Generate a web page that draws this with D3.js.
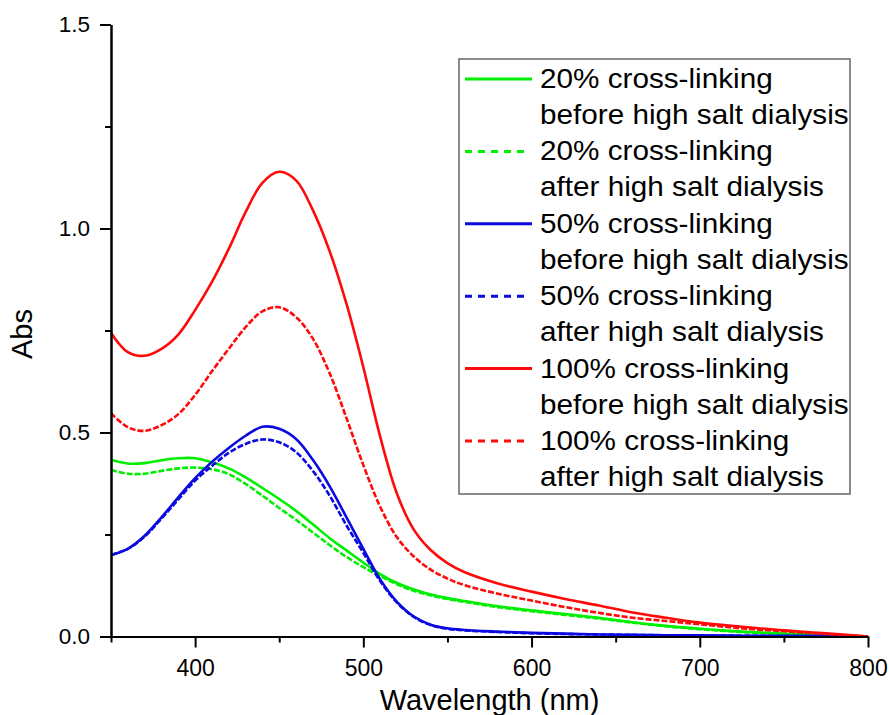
<!DOCTYPE html>
<html>
<head>
<meta charset="utf-8">
<script src="https://cdn.jsdelivr.net/npm/d3@7"></script>
<style>
  body { margin: 0; background: #fff; }
  svg { font-family: "Liberation Sans", Arial, sans-serif; }
</style>
</head>
<body>
<svg id="chart" width="889" height="715"></svg>
<script>
// wavelengths (nm) shared by every series
const wavelengths = [350, 360, 370, 380, 390, 400, 410, 420, 430, 440, 450, 460, 470, 480, 490, 500,
  510, 520, 530, 540, 550, 560, 580, 600, 620, 640, 660, 680, 700, 725, 750, 775, 800];

const green20Before = [0.433, 0.424, 0.425, 0.432, 0.437, 0.437, 0.427, 0.412, 0.390, 0.364, 0.337, 0.308, 0.275, 0.241, 0.211, 0.181,
  0.153, 0.131, 0.115, 0.103, 0.094, 0.087, 0.074, 0.064, 0.055, 0.046, 0.035, 0.026, 0.019, 0.012, 0.007, 0.003, 0.000];
const green20After = [0.408, 0.399, 0.399, 0.406, 0.412, 0.414, 0.410, 0.398, 0.374, 0.345, 0.315, 0.286, 0.255, 0.224, 0.195, 0.170,
  0.148, 0.128, 0.112, 0.101, 0.092, 0.085, 0.072, 0.062, 0.053, 0.044, 0.034, 0.025, 0.018, 0.011, 0.006, 0.002, 0.000];
const blue50Before = [0.200, 0.215, 0.247, 0.292, 0.341, 0.388, 0.428, 0.462, 0.492, 0.514, 0.509, 0.484, 0.433, 0.368, 0.292, 0.215,
  0.140, 0.085, 0.049, 0.029, 0.020, 0.016, 0.012, 0.009, 0.007, 0.005, 0.004, 0.003, 0.003, 0.002, 0.002, 0.001, 0.000];
const blue50After = [0.200, 0.215, 0.245, 0.289, 0.336, 0.382, 0.418, 0.450, 0.472, 0.483, 0.476, 0.452, 0.406, 0.345, 0.272, 0.205,
  0.136, 0.083, 0.048, 0.028, 0.019, 0.015, 0.011, 0.008, 0.006, 0.005, 0.004, 0.003, 0.002, 0.002, 0.001, 0.001, 0.000];
const red100Before = [0.744, 0.697, 0.688, 0.705, 0.740, 0.800, 0.869, 0.950, 1.040, 1.112, 1.139, 1.118, 1.045, 0.944, 0.815, 0.660,
  0.490, 0.350, 0.262, 0.212, 0.180, 0.158, 0.130, 0.110, 0.092, 0.076, 0.059, 0.046, 0.034, 0.024, 0.015, 0.008, 0.000];
const red100After = [0.547, 0.513, 0.504, 0.518, 0.545, 0.592, 0.650, 0.705, 0.758, 0.797, 0.807, 0.783, 0.730, 0.645, 0.535, 0.420,
  0.318, 0.243, 0.196, 0.164, 0.142, 0.126, 0.105, 0.088, 0.072, 0.058, 0.046, 0.038, 0.030, 0.020, 0.013, 0.006, 0.000];

const xMajorTicks = [400, 500, 600, 700, 800];
const xMinorTicks = [350, 450, 550, 650, 750];
const yMajorTicks = [0, 0.5, 1.0, 1.5];
const yMinorTicks = [0.25, 0.75, 1.25];

const series = [
  { label: ['20% cross-linking', 'before high salt dialysis'], values: green20Before, color: '#00ee00', dashed: false },
  { label: ['20% cross-linking', 'after high salt dialysis'], values: green20After, color: '#00ee00', dashed: true },
  { label: ['50% cross-linking', 'before high salt dialysis'], values: blue50Before, color: '#0a0ae0', dashed: false },
  { label: ['50% cross-linking', 'after high salt dialysis'], values: blue50After, color: '#0a0ae0', dashed: true },
  { label: ['100% cross-linking', 'before high salt dialysis'], values: red100Before, color: '#ff0a0a', dashed: false },
  { label: ['100% cross-linking', 'after high salt dialysis'], values: red100After, color: '#ff0a0a', dashed: true },
];

const margin = { top: 24.5, right: 21, bottom: 78.5, left: 111 };
const svg = d3.select('#chart');
const width = +svg.attr('width') - margin.left - margin.right;
const height = +svg.attr('height') - margin.top - margin.bottom;

const x = d3.scaleLinear().domain([350, 800]).range([0, width]);
const y = d3.scaleLinear().domain([0, 1.5]).range([height, 0]);

const g = svg.append('g')
  .attr('transform', 'translate(' + margin.left + ',' + margin.top + ')');

// lines, drawn first so the axes sit on top
const line = d3.line()
  .x((d, i) => x(wavelengths[i]))
  .y(d => y(d))
  .curve(d3.curveCatmullRom.alpha(0.5));

g.append('g')
  .attr('class', 'lines')
  .selectAll('path')
  .data(series)
  .enter()
  .append('path')
  .attr('d', d => line(d.values))
  .attr('fill', 'none')
  .attr('stroke', d => d.color)
  .attr('stroke-width', 2.6)
  .attr('stroke-dasharray', d => d.dashed ? '6,2' : null);

// axes
function styleAxis(sel) {
  sel.select('.domain').attr('stroke', '#000').attr('stroke-width', 2);
  sel.selectAll('.tick line').attr('stroke', '#000').attr('stroke-width', 2);
  sel.selectAll('.tick text').attr('fill', '#000');
}

g.append('g')
  .attr('transform', 'translate(0,' + height + ')')
  .call(d3.axisBottom(x).tickValues(xMinorTicks).tickSize(6).tickSizeOuter(0).tickFormat(''))
  .call(styleAxis);
g.append('g')
  .attr('transform', 'translate(0,' + height + ')')
  .call(d3.axisBottom(x).tickValues(xMajorTicks).tickSize(11).tickSizeOuter(0).tickPadding(12))
  .call(styleAxis)
  .selectAll('.tick text')
  .attr('font-size', 23)
  .attr('font-family', '"Liberation Sans", Arial, sans-serif');

g.append('g')
  .call(d3.axisLeft(y).tickValues(yMinorTicks).tickSize(6).tickSizeOuter(0).tickFormat(''))
  .call(styleAxis);
g.append('g')
  .call(d3.axisLeft(y).tickValues(yMajorTicks).tickSize(11).tickSizeOuter(0).tickPadding(10).tickFormat(d3.format('.1f')))
  .call(styleAxis)
  .selectAll('.tick text')
  .attr('font-size', 22.5)
  .attr('font-family', '"Liberation Sans", Arial, sans-serif');

// axis titles
svg.append('text')
  .attr('x', margin.left + width / 2)
  .attr('y', 710)
  .attr('text-anchor', 'middle')
  .attr('font-size', 29)
  .text('Wavelength (nm)');

svg.append('text')
  .attr('transform', 'translate(32,334) rotate(-90)')
  .attr('text-anchor', 'middle')
  .attr('font-size', 29)
  .text('Abs');

// legend
const legend = svg.append('g').attr('class', 'legend');
legend.append('rect')
  .attr('x', 459)
  .attr('y', 59)
  .attr('width', 391)
  .attr('height', 435)
  .attr('fill', '#fff')
  .attr('stroke', '#666')
  .attr('stroke-width', 1.5);

const entry = legend.selectAll('g.entry')
  .data(series)
  .enter()
  .append('g')
  .attr('class', 'entry')
  .attr('transform', (d, i) => 'translate(0,' + (79 + i * 72.4) + ')');

entry.append('line')
  .attr('x1', 465)
  .attr('x2', d => d.dashed ? 526 : 532)
  .attr('y1', 0)
  .attr('y2', 0)
  .attr('stroke', d => d.color)
  .attr('stroke-width', 3)
  .attr('stroke-dasharray', d => d.dashed ? '7,6' : null);

entry.selectAll('text')
  .data(d => d.label)
  .enter()
  .append('text')
  .attr('transform', (d, i) => 'translate(540,' + (9 + i * 36) + ') scale(1.1,1)')
  .attr('font-size', 27)
  .attr('fill', '#000')
  .text(d => d);
</script>
</body>
</html>
